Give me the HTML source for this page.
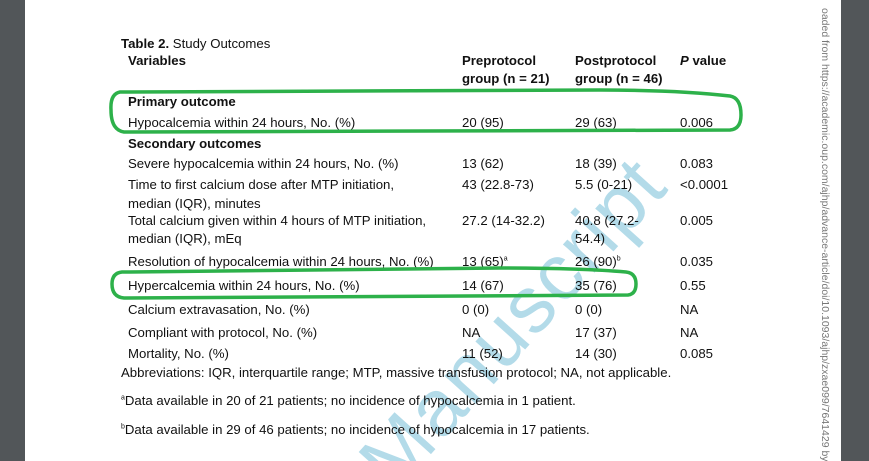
<!DOCTYPE html>
<html style="overflow:hidden;width:869px;height:461px"><head><meta charset="utf-8"><style>
body{margin:0;width:869px;height:461px;overflow:hidden;background:#fff;position:relative;font-family:"Liberation Sans",sans-serif;font-size:13.2px;color:#111}
.t{position:absolute;white-space:nowrap;line-height:16px}
b{font-weight:bold}
</style></head><body>
<svg width="869" height="461" style="position:absolute;left:0;top:0;overflow:hidden">
<text x="765" y="320" text-anchor="end" font-family="Liberation Sans, sans-serif" font-size="80" letter-spacing="2" fill="#b3dbe9" transform="translate(-35,42) rotate(-48 540 300)">Accepted Manuscript</text>
<text x="822" y="8" font-family="Liberation Sans, sans-serif" font-size="10.5" fill="#777" transform="rotate(90 822 8)">oaded from https://academic.oup.com/ajhp/advance-article/doi/10.1093/ajhp/zxae099/7641429 by</text>
<rect x="0" y="0" width="25" height="461" fill="#525659"/>
<rect x="841" y="0" width="28" height="461" fill="#525659"/>
</svg>
<div id="tbl"></div>
<svg width="869" height="461" style="position:absolute;left:0;top:0">
<path d="M120 92 Q110 94 111 110 Q111 130 124 132 L730 130 Q741 129 741 115 Q741 98 730 96 Q680 90 600 90 L130 92 Z" fill="none" stroke="#2db14a" stroke-width="3.5"/>
<path d="M122 272 Q112 273 112 284 Q112 297 124 298 L628 295 Q636 294 636 284 Q636 273 626 272 Q580 268 500 268 L130 272 Z" fill="none" stroke="#2db14a" stroke-width="3.5"/>
</svg>
<script>
const rows=[
[43,121,'<b>Table 2.</b> Study Outcomes'],
[60,128,'<b>Variables</b>'],[60,462,'<b>Preprotocol</b>'],[60,575,'<b>Postprotocol</b>'],[60,680,'<b><i>P</i> value</b>'],
[78,462,'<b>group (n = 21)</b>'],[78,575,'<b>group (n = 46)</b>'],
[101,128,'<b>Primary outcome</b>'],
[122,128,'Hypocalcemia within 24 hours, No. (%)'],[122,462,'20 (95)'],[122,575,'29 (63)'],[122,680,'0.006'],
[143,128,'<b>Secondary outcomes</b>'],
[163,128,'Severe hypocalcemia within 24 hours, No. (%)'],[163,462,'13 (62)'],[163,575,'18 (39)'],[163,680,'0.083'],
[184,128,'Time to first calcium dose after MTP initiation,'],[184,462,'43 (22.8-73)'],[184,575,'5.5 (0-21)'],[184,680,'&lt;0.0001'],
[203,128,'median (IQR), minutes'],
[220,128,'Total calcium given within 4 hours of MTP initiation,'],[220,462,'27.2 (14-32.2)'],[220,575,'40.8 (27.2-'],[220,680,'0.005'],
[238,128,'median (IQR), mEq'],[238,575,'54.4)'],
[261,128,'Resolution of hypocalcemia within 24 hours, No. (%)'],[261,462,'13 (65)<sup style="font-size:7px;line-height:0">a</sup>'],[261,575,'26 (90)<sup style="font-size:7px;line-height:0">b</sup>'],[261,680,'0.035'],
[285,128,'Hypercalcemia within 24 hours, No. (%)'],[285,462,'14 (67)'],[285,575,'35 (76)'],[285,680,'0.55'],
[309,128,'Calcium extravasation, No. (%)'],[309,462,'0 (0)'],[309,575,'0 (0)'],[309,680,'NA'],
[332,128,'Compliant with protocol, No. (%)'],[332,462,'NA'],[332,575,'17 (37)'],[332,680,'NA'],
[353,128,'Mortality, No. (%)'],[353,462,'11 (52)'],[353,575,'14 (30)'],[353,680,'0.085'],
[372,121,'Abbreviations: IQR, interquartile range; MTP, massive transfusion protocol; NA, not applicable.'],
[400,121,'<sup style="font-size:7px;line-height:0">a</sup>Data available in 20 of 21 patients; no incidence of hypocalcemia in 1 patient.'],
[429,121,'<sup style="font-size:7px;line-height:0">b</sup>Data available in 29 of 46 patients; no incidence of hypocalcemia in 17 patients.']
];
const tbl=document.getElementById('tbl');
rows.forEach(r=>{const d=document.createElement('div');d.className='t';d.style.top=(r[0]-7)+'px';d.style.left=r[1]+'px';d.innerHTML=r[2];


tbl.appendChild(d);});
</script>
</body></html>
